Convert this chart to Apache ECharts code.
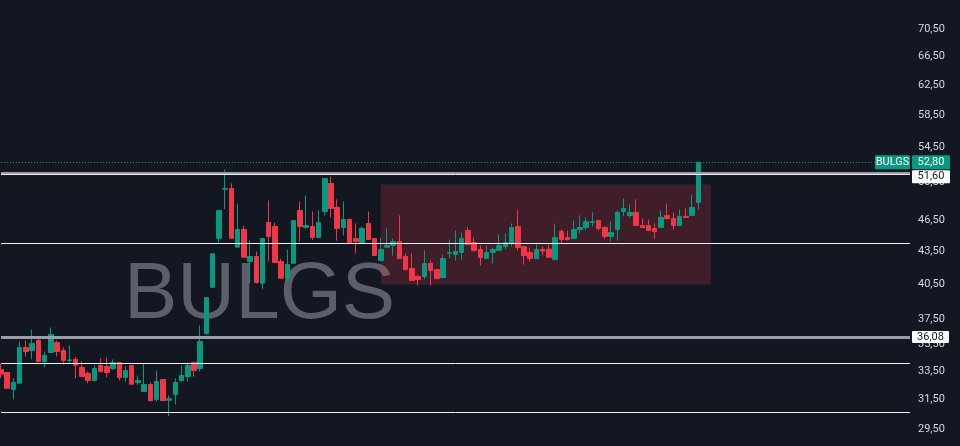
<!DOCTYPE html>
<html><head><meta charset="utf-8">
<script src="https://cdn.jsdelivr.net/npm/echarts@6/dist/echarts.min.js"></script>
<style>html,body{margin:0;padding:0;background:#131722;}#c{width:960px;height:446px;}</style>
</head><body><div id="c"></div>
<script>
const symbolName = 'BULGS';
const openValues = [33.60,33.40,32.20,32.63,35.27,35.04,35.81,34.21,34.89,35.65,35.04,34.29,34.36,33.77,33.33,32.82,33.91,33.84,33.69,34.14,33.04,33.91,32.68,32.04,32.54,31.49,32.89,31.44,31.83,32.82,33.11,34.14,33.69,36.36,40.22,44.74,49.79,49.87,43.88,45.60,42.53,43.00,40.57,46.30,45.90,42.53,41.01,42.37,47.53,45.80,45.90,44.81,47.43,50.41,47.85,45.80,46.61,44.71,44.33,46.20,44.71,42.62,43.88,44.04,44.42,43.00,41.89,41.17,41.17,42.35,41.79,41.08,43.31,43.19,43.38,45.50,44.33,43.66,42.81,43.38,43.57,43.94,44.23,45.90,43.94,43.38,42.81,43.66,43.69,42.72,45.40,44.81,44.71,45.60,45.80,46.30,46.50,45.80,44.91,45.60,47.43,47.02,47.33,46.00,46.00,45.70,45.80,47.02,46.71,46.00,46.92,47.02,48.37];
const closeValues = [33.28,32.27,32.68,35.27,34.96,35.58,34.21,34.66,36.28,34.96,34.29,34.33,33.94,33.11,32.82,33.69,33.47,33.40,34.14,33.04,33.54,32.56,32.82,32.54,31.42,32.75,31.42,31.54,32.68,33.18,33.91,33.54,35.73,39.32,43.25,47.53,49.87,44.74,45.60,42.93,43.00,40.63,44.71,44.91,42.44,41.01,42.25,46.50,45.90,46.00,44.81,46.30,50.96,47.74,45.70,46.61,44.33,44.42,45.70,44.62,43.09,43.66,44.04,44.42,42.81,41.79,40.81,40.90,42.35,41.70,40.99,42.81,43.38,43.47,44.71,44.14,43.57,42.91,43.38,43.66,44.04,44.33,45.80,43.85,43.09,42.81,43.66,43.50,42.93,44.81,44.62,44.62,45.60,45.80,46.40,46.40,45.70,44.91,45.30,47.33,47.74,47.33,46.00,45.80,45.50,45.40,46.81,46.71,46.00,46.92,46.81,47.85,52.80];
const lowValues = [32.99,32.23,31.51,32.63,34.59,34.38,34.14,33.79,34.89,34.59,33.97,34.08,32.99,33.11,32.63,32.75,33.40,33.04,33.60,32.82,32.75,32.56,32.52,32.04,31.35,31.35,31.42,30.37,31.15,32.75,32.75,33.11,33.47,36.26,40.13,44.32,47.67,44.74,43.88,42.93,40.57,40.54,40.04,42.53,42.37,41.01,40.72,42.37,44.42,45.70,44.59,44.81,47.02,46.81,44.52,45.01,44.23,43.28,44.33,44.62,43.09,42.53,43.88,43.09,42.81,41.70,40.81,40.37,40.90,40.37,40.90,40.99,42.81,42.62,42.72,44.14,43.47,42.16,42.81,42.35,43.57,43.66,43.94,43.57,42.25,42.53,42.81,43.09,42.93,42.62,44.23,44.52,44.71,45.20,45.50,45.90,45.50,44.71,44.42,44.52,46.92,46.81,46.00,45.80,45.50,44.71,45.80,46.61,45.60,46.00,46.81,47.02,47.64];
const highValues = [34.04,33.40,32.99,35.73,35.81,36.68,36.12,34.96,36.84,35.81,35.27,35.42,34.53,34.21,33.47,33.91,34.44,34.51,34.36,34.14,33.84,33.91,33.18,34.06,32.68,33.54,32.89,31.76,32.97,33.91,34.14,34.14,37.00,39.32,43.25,47.53,51.96,50.41,48.26,45.97,44.52,43.47,44.71,48.58,46.30,42.81,43.66,46.50,48.47,49.11,47.43,47.53,50.96,51.19,48.69,48.47,46.71,46.20,45.90,47.43,44.71,44.81,45.70,44.71,47.02,43.28,43.28,41.34,43.57,42.62,41.79,43.19,44.62,45.50,45.30,45.80,44.81,44.04,44.04,43.85,45.11,45.20,46.20,47.64,43.94,43.85,44.14,43.94,44.14,46.20,45.60,45.50,46.50,47.02,46.81,47.33,46.61,45.90,46.40,47.53,48.79,48.16,48.69,46.71,46.61,46.20,47.53,48.26,47.33,47.64,47.74,49.22,52.80];
const yTickValues = [29.5,31.5,33.5,35.5,37.5,40.5,43.5,46.5,50.5,54.5,58.5,62.5,66.5,70.5];
const categoryCount = 147;
const lastPrice = 52.80;
const levelTagged = 51.60;
const supportTagged = 36.08;
const whiteLevels = [51.39, 44.22, 34.05, 30.60];
const zoneTop = 50.30, zoneBottom = 40.46, zoneStartIndex = 61, zoneEndIndex = 114;

const UP = '#089981', DOWN = '#f23645', BG = '#131722';
const categories = [];
for (let i = 0; i < categoryCount; i++) categories.push(String(i));
const candles = openValues.map((o, i) => [o, closeValues[i], lowValues[i], highValues[i]]);
const fmt = v => v.toFixed(2).replace('.', ',');
const FONT = 'Roboto, "Liberation Sans", Arial, sans-serif';

const chart = echarts.init(document.getElementById('c'));
const markLines = [
  { yAxis: levelTagged, lineStyle: { color: '#9b9ea6', width: 2, type: 'solid' } },
  { yAxis: supportTagged, lineStyle: { color: '#9b9ea6', width: 3, type: 'solid' } },
  { yAxis: lastPrice, lineStyle: { color: UP, width: 1, type: [1, 2] } }
].concat(whiteLevels.map(v => ({ yAxis: v, lineStyle: { color: '#f0f0f0', width: 1, type: 'solid' } })));

chart.setOption({
  backgroundColor: BG,
  animation: false,
  grid: { left: 1, right: 50, top: 0, bottom: 0 },
  xAxis: { type: 'category', data: categories, boundaryGap: false, show: false },
  yAxis: {
    type: 'log', position: 'right', min: 28.46, max: 75.17,
    axisLine: { show: false }, axisTick: { show: false }, splitLine: { show: false },
    axisLabel: { customValues: yTickValues, formatter: v => fmt(v), color: '#d5d7de', fontSize: 11, margin: 8, fontFamily: FONT }
  },
  series: [{
    type: 'candlestick', data: candles, barWidth: 5,
    itemStyle: { color: UP, color0: DOWN, borderColor: UP, borderColor0: DOWN, borderWidth: 1 },
    markLine: { silent: true, symbol: ['none', 'none'], label: { show: false }, data: markLines },
    markArea: { silent: true, itemStyle: { color: 'rgba(242,54,69,0.2)' },
      data: [[{ xAxis: categories[zoneStartIndex], yAxis: zoneTop }, { xAxis: categories[zoneEndIndex], yAxis: zoneBottom }]] }
  }]
});

const yOf = v => chart.convertToPixel({ yAxisIndex: 0 }, v);
const yLast = yOf(lastPrice);
const ySup = yOf(supportTagged);
function tag(x, yc, w, h, text, bg, fg) {
  return [{ type: 'rect', z: 100, shape: { x: x, y: yc - h / 2, width: w, height: h, r: 1 }, style: { fill: bg } },
          { type: 'text', z: 101, x: x + w / 2, y: yc, style: { text: text, fill: fg, font: '11px ' + FONT, align: 'center', verticalAlign: 'middle' } }];
}
const extra = [].concat(
  tag(875, yLast, 35, 14, symbolName, UP, '#ffffff'),
  tag(912, yLast, 38, 14, fmt(lastPrice), UP, '#ffffff'),
  tag(912, yLast + 14.5, 38, 13, fmt(levelTagged), '#ffffff', '#131722'),
  tag(912, ySup, 37, 12, fmt(supportTagged), '#ffffff', '#131722')
);
chart.setOption({ graphic: [{ type: 'text', z: 0, x: 124, y: 296, silent: true,
    style: { text: symbolName, font: '80px "Liberation Sans", Arial, sans-serif', fill: '#5c5f69', verticalAlign: 'middle' } }].concat(extra) });
</script></body></html>
